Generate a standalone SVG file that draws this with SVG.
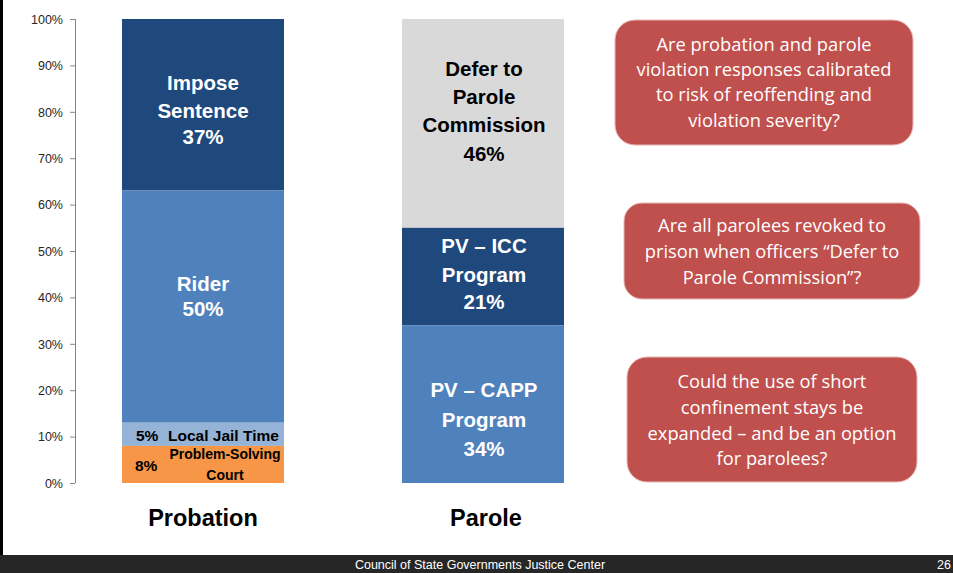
<svg xmlns="http://www.w3.org/2000/svg" width="953" height="573" viewBox="0 0 953 573">
  <style>
    text { font-family: "Liberation Sans", Arial, sans-serif; }
    .tick { font-size: 12.5px; fill: #262626; text-anchor: end; }
    .lbl { font-size: 20.5px; font-weight: bold; fill: #fff; text-anchor: middle; }
    .lblDark { font-size: 20.5px; font-weight: bold; fill: #000; text-anchor: middle; }
    .small { font-size: 15.5px; font-weight: bold; fill: #000; }
    .tiny { font-size: 14px; font-weight: bold; fill: #000; text-anchor: middle; }
    .cat { font-size: 23.5px; font-weight: bold; fill: #000; text-anchor: middle; }
    .q { font-family: "Open Sans", "Liberation Sans", sans-serif; font-size: 18.3px; fill: #fff; text-anchor: middle; }
    .qbox { fill: #C0504D; stroke: #E6B9B8; stroke-width: 1; }
    .foot { font-size: 12.5px; fill: #fff; }
  </style>

  <rect x="0" y="0" width="953" height="573" fill="#fff"/>
  <!-- slide edge -->
  <rect x="0" y="0" width="3" height="556" fill="#000"/>

  <!-- value axis -->
  <g id="axis" stroke="#868686" stroke-width="1">
    <line x1="75.5" y1="19" x2="75.5" y2="483"/>
    <line x1="70" y1="19.5" x2="75" y2="19.5"/>
    <line x1="70" y1="65.9" x2="75" y2="65.9"/>
    <line x1="70" y1="112.3" x2="75" y2="112.3"/>
    <line x1="70" y1="158.7" x2="75" y2="158.7"/>
    <line x1="70" y1="205.1" x2="75" y2="205.1"/>
    <line x1="70" y1="251.5" x2="75" y2="251.5"/>
    <line x1="70" y1="297.9" x2="75" y2="297.9"/>
    <line x1="70" y1="344.3" x2="75" y2="344.3"/>
    <line x1="70" y1="390.7" x2="75" y2="390.7"/>
    <line x1="70" y1="437.1" x2="75" y2="437.1"/>
    <line x1="70" y1="483.5" x2="75" y2="483.5"/>
  </g>
  <g id="axis-labels">
    <text class="tick" x="63" y="24">100%</text>
    <text class="tick" x="63" y="70">90%</text>
    <text class="tick" x="63" y="117">80%</text>
    <text class="tick" x="63" y="163">70%</text>
    <text class="tick" x="63" y="209">60%</text>
    <text class="tick" x="63" y="256">50%</text>
    <text class="tick" x="63" y="302">40%</text>
    <text class="tick" x="63" y="349">30%</text>
    <text class="tick" x="63" y="395">20%</text>
    <text class="tick" x="63" y="441">10%</text>
    <text class="tick" x="63" y="488">0%</text>
  </g>

  <!-- Probation stacked bar -->
  <g id="probation">
    <rect x="122" y="19" width="162" height="171.5" fill="#1F497D"/>
    <rect x="122" y="190.5" width="162" height="232.2" fill="#4F81BD"/>
    <rect x="122" y="422.7" width="162" height="23.2" fill="#95B3D7"/>
    <rect x="122" y="445.9" width="162" height="37.1" fill="#F79646"/>
    <text class="lbl" x="203" y="90">Impose</text>
    <text class="lbl" x="203" y="118">Sentence</text>
    <text class="lbl" x="203" y="144">37%</text>
    <text class="lbl" x="203" y="291">Rider</text>
    <text class="lbl" x="203" y="316">50%</text>
    <text class="small" x="136" y="441">5%</text>
    <text class="small" x="168" y="441">Local Jail Time</text>
    <text class="small" x="135" y="471">8%</text>
    <text class="tiny" x="225" y="459">Problem-Solving</text>
    <text class="tiny" x="225" y="480">Court</text>
    <text class="cat" x="203" y="526">Probation</text>
  </g>

  <!-- Parole stacked bar -->
  <g id="parole">
    <rect x="402" y="19" width="162" height="208.8" fill="#D9D9D9"/>
    <rect x="402" y="227.8" width="162" height="97.4" fill="#1F497D"/>
    <rect x="402" y="325.2" width="162" height="157.8" fill="#4F81BD"/>
    <text class="lblDark" x="484" y="76">Defer to</text>
    <text class="lblDark" x="484" y="104">Parole</text>
    <text class="lblDark" x="484" y="132">Commission</text>
    <text class="lblDark" x="484" y="161">46%</text>
    <text class="lbl" x="484" y="253">PV – ICC</text>
    <text class="lbl" x="484" y="282">Program</text>
    <text class="lbl" x="484" y="309">21%</text>
    <text class="lbl" x="484" y="397">PV – CAPP</text>
    <text class="lbl" x="484" y="427">Program</text>
    <text class="lbl" x="484" y="456">34%</text>
    <text class="cat" x="486" y="526">Parole</text>
  </g>

  <!-- question callouts -->
  <g id="q1">
    <rect class="qbox" x="615" y="20" width="298" height="125" rx="20"/>
    <text class="q" x="764" y="51">Are probation and parole</text>
    <text class="q" x="764" y="76">violation responses calibrated</text>
    <text class="q" x="764" y="101">to risk of reoffending and</text>
    <text class="q" x="764" y="127">violation severity?</text>
  </g>
  <g id="q2">
    <rect class="qbox" x="624" y="203" width="296" height="96" rx="18"/>
    <text class="q" x="772" y="232">Are all parolees revoked to</text>
    <text class="q" x="772" y="258">prison when officers “Defer to</text>
    <text class="q" x="772" y="284">Parole Commission”?</text>
  </g>
  <g id="q3">
    <rect class="qbox" x="627" y="357" width="290" height="125" rx="20"/>
    <text class="q" x="772" y="388">Could the use of short</text>
    <text class="q" x="772" y="414">confinement stays be</text>
    <text class="q" x="772" y="440">expanded – and be an option</text>
    <text class="q" x="772" y="465">for parolees?</text>
  </g>

  <!-- footer -->
  <g id="footer">
    <rect x="0" y="555" width="953" height="18" fill="#262626"/>
    <text class="foot" x="480" y="569" text-anchor="middle">Council of State Governments Justice Center</text>
    <text class="foot" x="951" y="569" text-anchor="end">26</text>
  </g>
</svg>
